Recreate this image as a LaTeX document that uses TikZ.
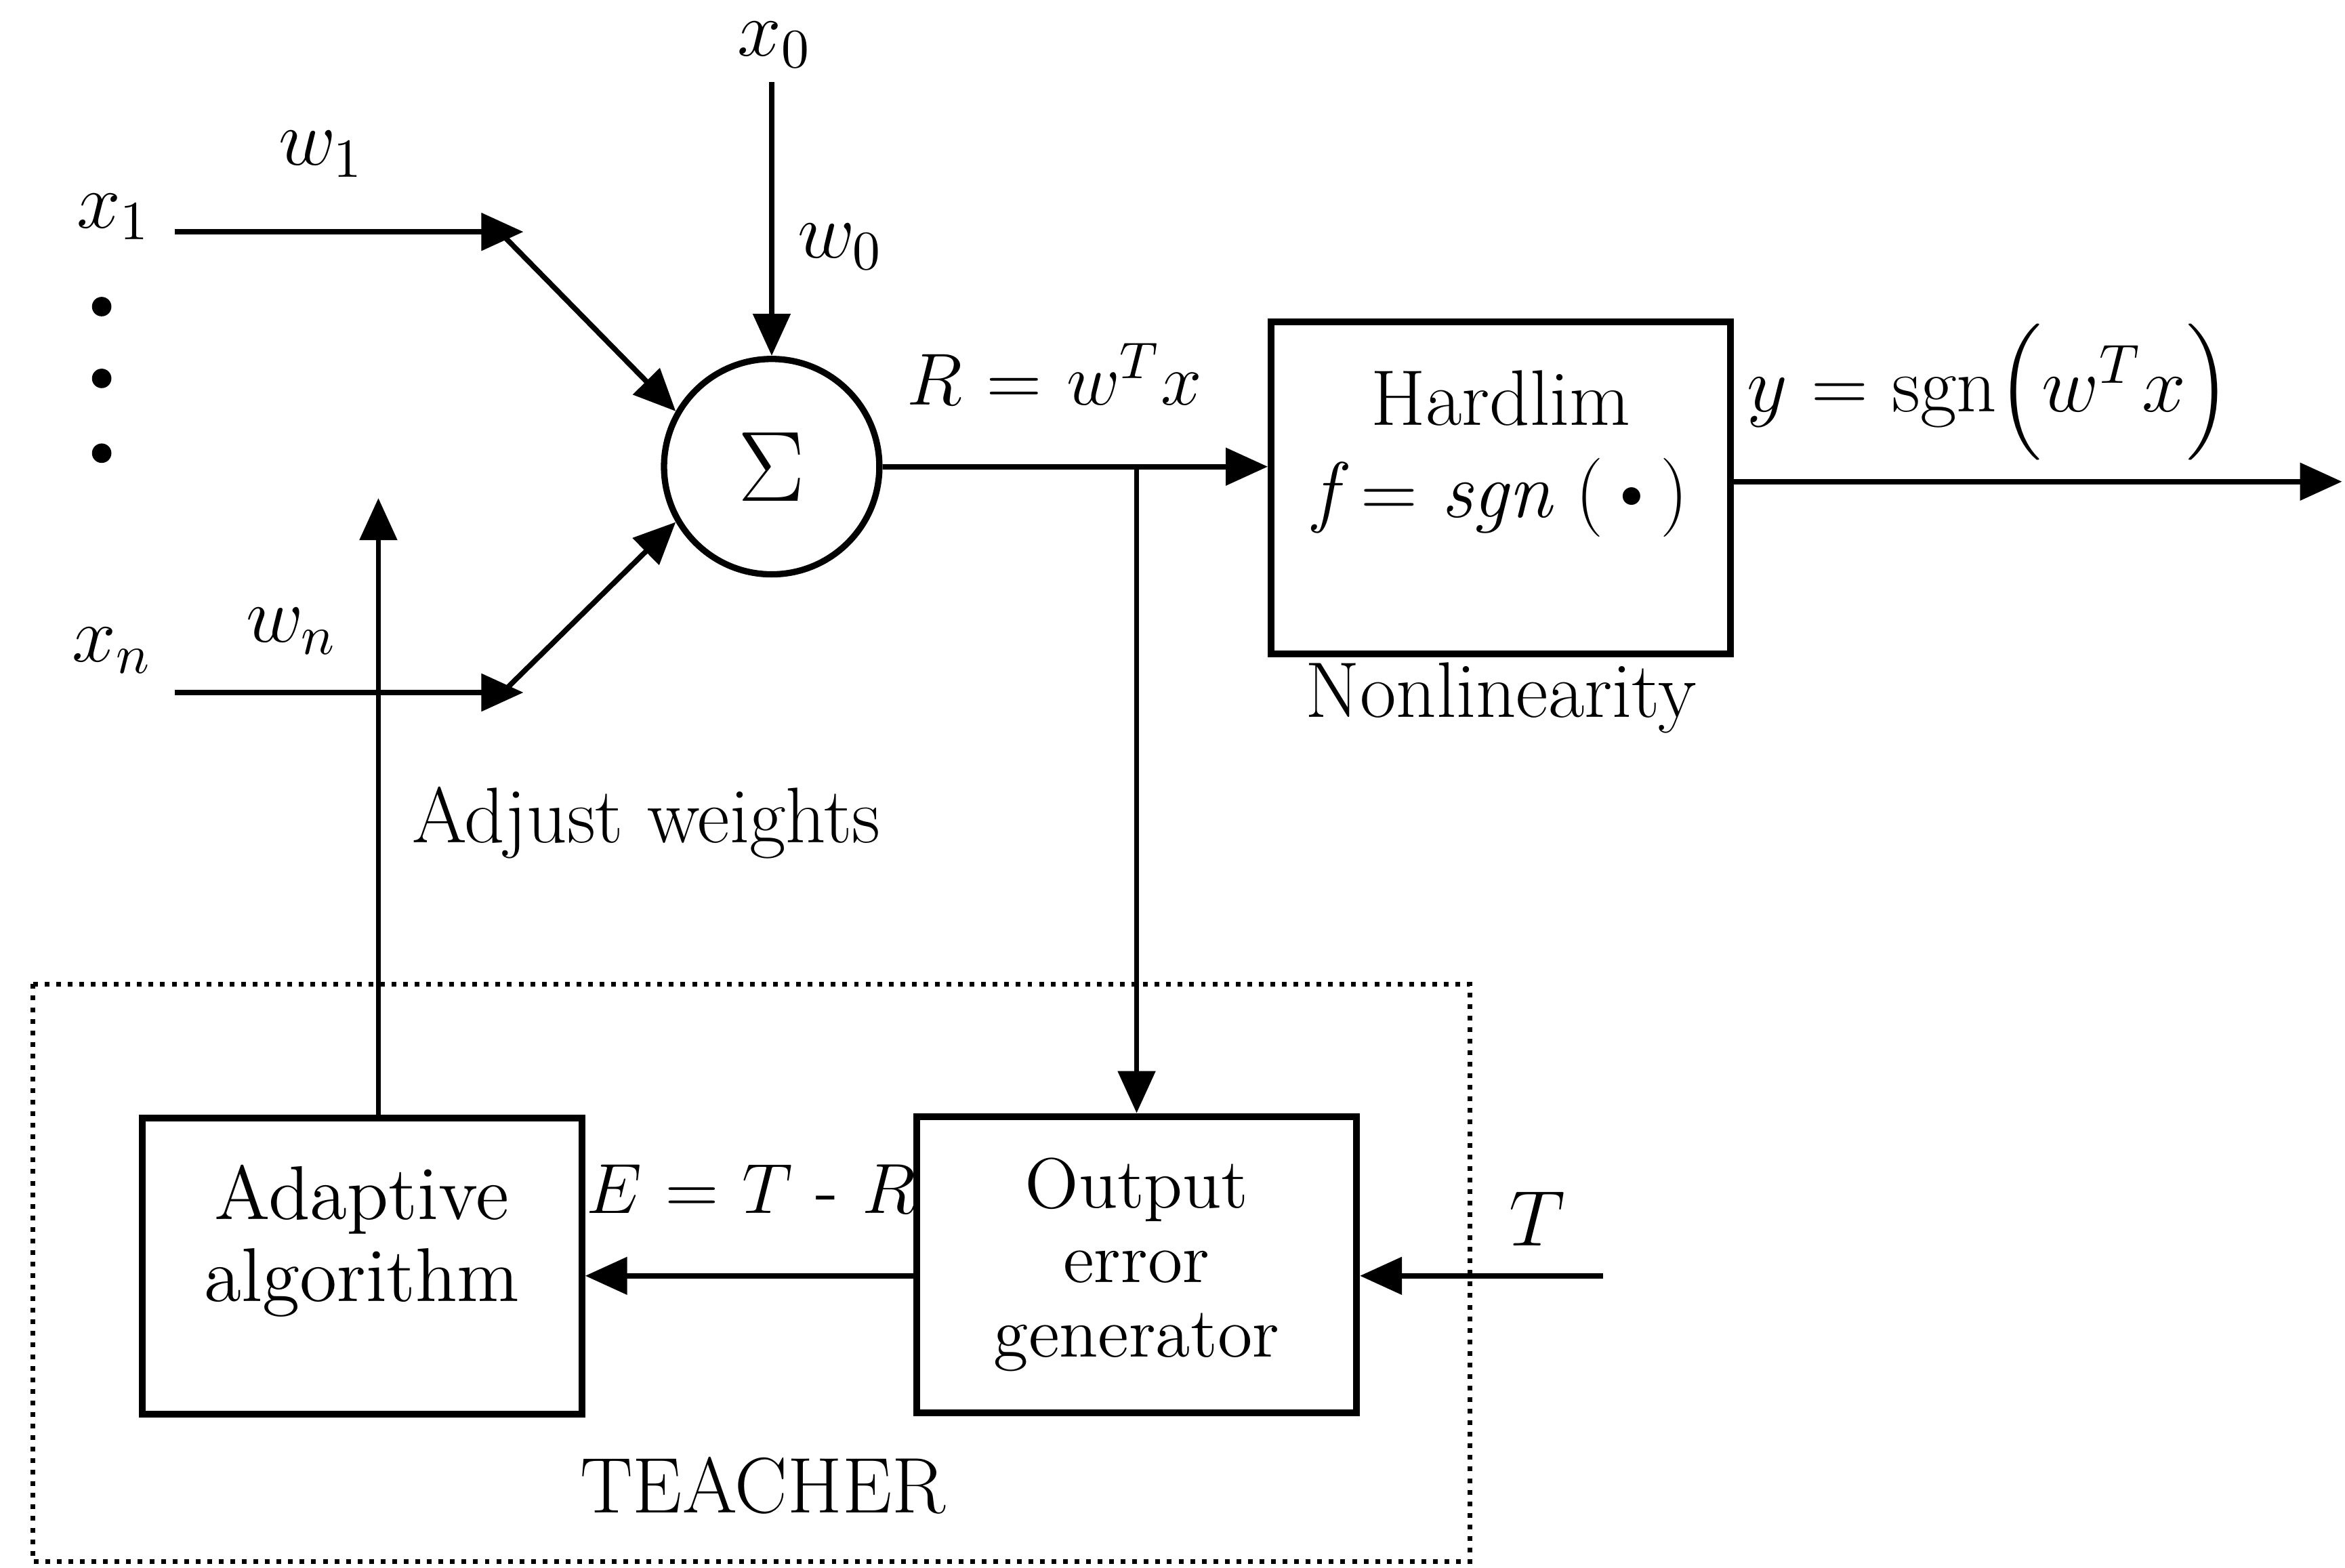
\RequirePackage{fix-cm}
\documentclass[tikz,border=0pt]{standalone}
\usepackage{amsmath}
\usepackage{fontspec}
\usetikzlibrary{arrows.meta, positioning, calc}

\begin{document}
\begin{tikzpicture}[
    >={Triangle[length=8pt, width=7pt]}, line width=1pt,
    font=\fontsize{15}{17.6}\selectfont,
    blk/.style={draw, line width=1.3pt, minimum width=2.94cm,
        minimum height=1.98cm},
    txt/.style={align=center, inner sep=0pt}
  ]
  \useasboundingbox (0,0) rectangle (15.68,-10.48);

  % summing junction and hard limiter
  \node[draw, circle, line width=1.2pt, minimum size=1.44cm] (sum) at (5.16,-3.12)
    {\fontsize{19}{20}\selectfont$\Sigma$};
  \node[blk, minimum width=3.07cm, minimum height=2.22cm] (hard) at (10.035,-3.26) {};
  \node[txt, below=0.33cm of hard.north] (hardtxt)
    {Hardlim\\ {\itshape f} = {\itshape sgn} (\textbullet)};
  \node[txt, below=0.02cm of hard.south] (nonlin) {Nonlinearity};

  % teacher blocks
  \node[blk] (adapt) at (2.42,-8.465) {};
  \node[txt, font=\fontsize{14.5}{15.6}\selectfont, below=0.32cm of adapt.north]
    (adapttxt) {Adaptive\\algorithm};
  \node[blk, align=center, font=\fontsize{13.5}{14.2}\selectfont] (err) at (7.60,-8.455)
    {Output\\error\\generator};
  \draw[line width=0.9pt, dash pattern=on 0.9pt off 1.3pt]
    (0.22,-6.58) rectangle (9.83,-10.44);

  % labels
  \node (lx0) at (5.18,-0.30) {$x_0$};
  \node (lw0) at (5.62,-1.65) {$w_0$};
  \node (lx1) at (0.76,-1.45) {$x_1$};
  \node (lw1) at (2.15,-1.03) {$w_1$};
  \node (lxn) at (0.75,-4.35) {$x_n$};
  \node (lwn) at (1.95,-4.22) {$w_n$};
  \node[font=\fontsize{14}{16}\selectfont] (lR) at (7.05,-2.50) {$R$ = $w^{T}x$};
  \node (ly) at (13.30,-2.62) {$y$ = sgn$\Bigl(w^{T}x\Bigr)$};
  \node (ladj) at (4.32,-5.50) {Adjust weights};
  \node[font=\fontsize{13.5}{16}\selectfont] (lE) at (5.02,-7.95) {$E$ = $T$ - $R$};
  \node (lT) at (10.28,-8.15) {$T$};
  \node (teach) at (5.10,-9.93) {TEACHER};

  \foreach \y in {2.05,2.53,3.03}
    \fill (0.68,-\y) circle (0.065);

  % inputs
  \coordinate (x0) at (5.16,-0.55);
  \coordinate (x1s) at (1.17,-1.55);
  \coordinate (x1e) at (3.50,-1.55);
  \coordinate (j1) at (3.34,-1.55);
  \coordinate (xns) at (1.17,-4.63);
  \coordinate (xne) at (3.50,-4.63);
  \coordinate (jn) at (3.36,-4.63);
  \draw[->] (x0) -- (sum.north);
  \draw[->] (x1s) -- (x1e);
  \draw[->] (j1) -- (sum.150);
  \draw[->] (xns) -- (xne);
  \draw[->] (jn) -- (sum.210);

  % forward path
  \coordinate (br) at (sum.east -| err.north);
  \coordinate (yout) at (15.66,-3.22);
  \draw[->] (sum.east) -- (sum.east -| hard.west);
  \draw[->] (hard.east |- yout) -- (yout);
  \draw[->] (br) -- (err.north);

  % feedback
  \coordinate (tin) at (10.72,-8.53);
  \coordinate (adj) at (2.53,-3.33);
  \draw[->] (tin) -- (tin -| err.east);
  \draw[->] (tin -| err.west) -- (tin -| adapt.east);
  \draw[->] (adj |- adapt.north) -- (adj);
\end{tikzpicture}
\end{document}
